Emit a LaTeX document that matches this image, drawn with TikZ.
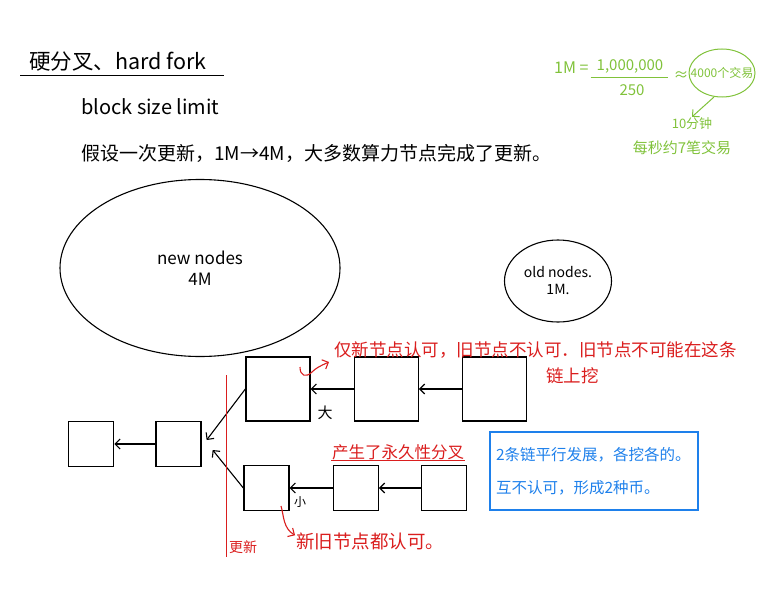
\documentclass[tikz,border=0pt]{standalone}
\usepackage{fontspec}
\setmainfont{Noto Sans CJK SC}
\usetikzlibrary{arrows.meta,positioning,shapes.geometric}
\usepackage{xcolor}
\definecolor{InkRed}{RGB}{218,30,30}
\definecolor{InkGreen}{RGB}{128,194,58}
\definecolor{InkBlue}{RGB}{30,128,235}
\newcommand{\inksize}[1]{\fontsize{#1}{#1}\selectfont}

\begin{document}
\begin{tikzpicture}[x=1pt,y=-1pt,node distance=43pt,>={Straight Barb[length=5pt,width=10pt]},
 blk/.style={draw,line width=1.3pt,inner sep=0pt,minimum size=64pt},
 sblk/.style={draw,line width=1.3pt,inner sep=0pt,minimum size=45pt},
 link/.style={->,line width=1.1pt},
 rednote/.style={text=InkRed,inner sep=1pt,anchor=west,font=\inksize{17.5}},
 grnote/.style={text=InkGreen,inner sep=1pt}]
\useasboundingbox (0,0) rectangle (759,591);

% heading
\node[anchor=west,inner sep=1pt,font=\inksize{21.5}] (title) at (28,62) {硬分叉、hard fork};
\draw[line width=1pt] ([xshift=-8pt,yshift=-3pt]title.south west) -- ([xshift=16pt,yshift=-3pt]title.south east);
\node[anchor=west,inner sep=1pt,font=\inksize{20}] (bsl) at (80,107) {block size limit};
\node[anchor=west,inner sep=1pt,font=\inksize{19}] (assume) at (80,153) {假设一次更新，1M→4M，大多数算力节点完成了更新。};

% green side calculation
\node[grnote,anchor=west,font=\inksize{16}] (gM) at (553,68) {1M =};
\node[grnote,font=\inksize{15}] (gnum) at (630,66) {1,000,000};
\node[grnote,font=\inksize{15}] (gden) at (632,90) {250};
\draw[InkGreen,line width=1pt] ([xshift=-5pt,yshift=-3pt]gnum.south west) -- ([xshift=3pt,yshift=-3pt]gnum.south east);
\node[grnote,font=\inksize{15}] (gapprox) at (681,76) {≈};
\node[grnote,font=\inksize{12}] (gtx) at (722,73) {4000个交易};
\draw[InkGreen,line width=1pt] (gtx) ellipse [x radius=33pt,y radius=24pt];
\node[grnote,font=\inksize{13}] (gmin) at (692,124) {10分钟};
\node[grnote,font=\inksize{15}] (grate) at (682,148) {每秒约7笔交易};
\draw[InkGreen,line width=1pt,->] ([xshift=-8pt,yshift=-24pt]gtx.center) -- (gmin.north);

% node groups
\node[ellipse,draw,line width=1.1pt,minimum width=280pt,minimum height=177pt,align=center,font=\inksize{17}]
 (newnodes) at (200,268) {new nodes\\[4pt]4M};
\node[ellipse,draw,line width=1.1pt,minimum width=107pt,minimum height=82pt,inner sep=0pt,align=center,font=\inksize{14}]
 (oldnodes) at (558,281) {old nodes.\\[3pt]1M.};

% blocks
\node[sblk] (B2) at (178.5,444) {};
\node[sblk,left=41pt of B2] (B1) {};
\node[blk] (T1) at (278,389) {};
\node[blk,right=of T1] (T2) {};
\node[blk,right=of T2] (T3) {};
\node[sblk] (L1) at (266.5,488) {};
\node[sblk,right=of L1] (L2) {};
\node[sblk,right=42pt of L2] (L3) {};
\draw[link] (B2) -- (B1);
\draw[link] (T1.west) -- ([xshift=5pt,yshift=4pt]B2.east);
\draw[link] (L1.west) -- ([xshift=11pt,yshift=-6pt]B2.east);
\draw[link] (T3) -- (T2);
\draw[link] (T2) -- (T1);
\draw[link] (L3) -- (L2);
\draw[link] (L2) -- (L1);
\node[font=\inksize{15},inner sep=0pt] (big) at (325,413) {大};
\node[font=\inksize{12},inner sep=0pt] (small) at (300,502) {小};

% update line
\coordinate (updtop) at (226,375);
\coordinate (updbot) at (226,557);
\draw[InkRed,line width=1pt] (updtop) -- (updbot);
\node[text=InkRed,font=\inksize{14},inner sep=0pt] (upd) at (243,547) {更新};

% red notes
\node[rednote] (rnote1) at (333,350) {仅新节点认可，旧节点不认可．旧节点不可能在这条};
\node[rednote] (rnote1b) at (545,376) {链上挖};
\coordinate (sq1) at (300,367);
\draw[InkRed,line width=1.1pt,->] (sq1) .. controls (300,376) and (306,378) .. (312,372)
 .. controls (316,368) and (320,366) .. ([xshift=-4pt,yshift=-12pt]rnote1.west);
\node[rednote,font=\inksize{16.5}] (rnote2) at (331,452) {产生了永久性分叉};
\draw[InkRed,line width=1.1pt] (rnote2.south west) -- (rnote2.south east);
\node[rednote,font=\inksize{18.5}] (rnote3) at (295,541) {新旧节点都认可。};
\coordinate (sq2) at (281,506);
\draw[InkRed,line width=1.1pt,->] (sq2) .. controls (284,516) and (283,528) .. ([yshift=-4pt]rnote3.north west);

% outcome
\node[draw=InkBlue,line width=1.3pt,text=InkBlue,minimum width=208pt,minimum height=78pt,
 text width=196pt,align=left,font=\fontsize{15.5}{33}\selectfont] (result) at (594,471)
 {2条链平行发展，各挖各的。\\互不认可，形成2种币。};
\end{tikzpicture}
\end{document}
